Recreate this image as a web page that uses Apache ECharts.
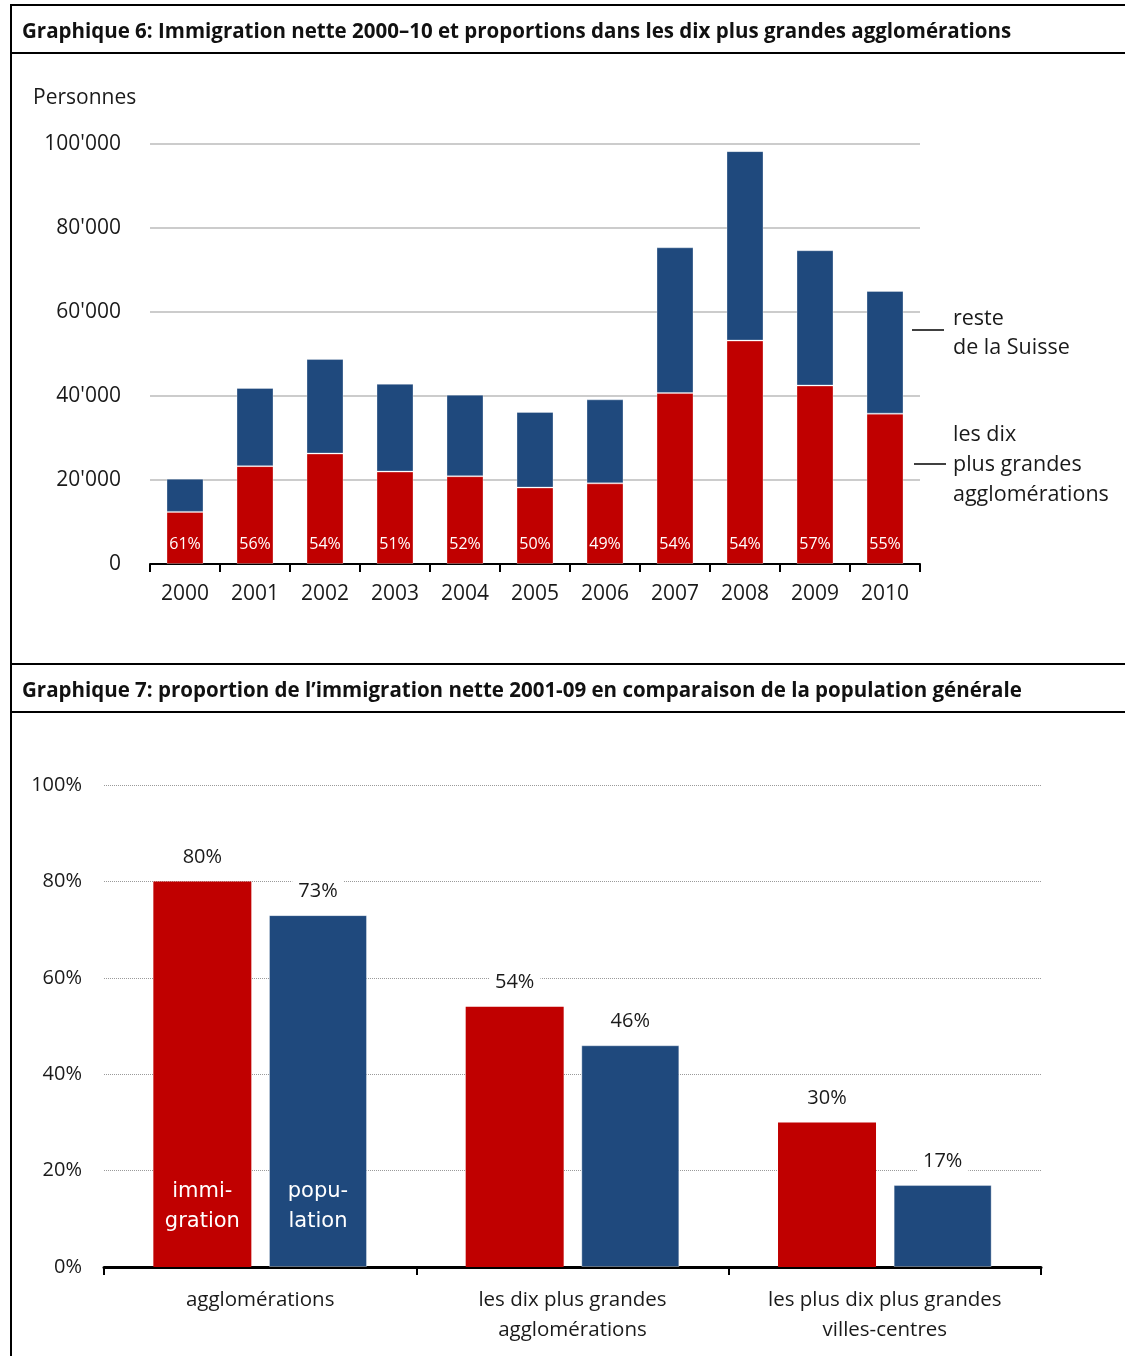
<!DOCTYPE html>
<html>
<head>
<meta charset="utf-8">
<script src="https://cdn.jsdelivr.net/npm/echarts@6/dist/echarts.min.js"></script>
<style>
  html, body { margin: 0; padding: 0; background: #fff; }
  #page { position: relative; width: 1125px; height: 1356px; overflow: hidden; }
  #chart { position: absolute; left: 0; top: 0; width: 1125px; height: 1356px; }
  .rule { position: absolute; background: #000; }
  .title { position: absolute; left: 22px; font-family: "Open Sans", sans-serif; font-weight: bold;
           font-size: 20.5px; color: #111; line-height: 26px; white-space: nowrap; }
</style>
</head>
<body>
<div id="page">
  <div id="chart"></div>
  <!-- frame rules -->
  <div class="rule" style="left:10px; top:4px; width:2px; height:1352px;"></div>
  <div class="rule" style="left:10px; top:4px; width:1115px; height:2px;"></div>
  <div class="rule" style="left:10px; top:52px; width:1115px; height:2px;"></div>
  <div class="rule" style="left:10px; top:663px; width:1115px; height:2px;"></div>
  <div class="rule" style="left:10px; top:711px; width:1115px; height:2px;"></div>
  <div class="title" style="top:17px;">Graphique 6: Immigration nette 2000–10 et proportions dans les dix plus grandes agglomérations</div>
  <div class="title" style="top:676px;">Graphique 7: proportion de l’immigration nette 2001-09 en comparaison de la population générale</div>
</div>
<script>
// Graphique 6 — net immigration per year (persons)
const years = ['2000', '2001', '2002', '2003', '2004', '2005', '2006', '2007', '2008', '2009', '2010'];
const tenLargest = [12400, 23300, 26300, 22000, 20900, 18200, 19200, 40700, 53200, 42500, 35800];
const restOfSwitzerland = [7900, 18600, 22500, 20900, 19400, 18000, 20000, 34700, 45100, 32200, 29200];
const personTicks = [0, 20000, 40000, 60000, 80000, 100000];

// Graphique 7 — shares 2001-09 (%)
const groups = ['agglomérations', 'les dix plus grandes\nagglomérations', 'les plus dix plus grandes\nvilles-centres'];
const immigrationShare = [80, 54, 30];
const populationShare = [73, 46, 17];
const shareTicks = [0, 20, 40, 60, 80, 100];

const RED = '#C00000';
const BLUE = '#1F497D';
const TXT = '#1a1a1a';
const FONT = '"Open Sans", sans-serif';

const fmtPersons = v => String(v).replace(/\B(?=(\d{3})+(?!\d))/g, "'");
const sharePct = i => Math.round(100 * tenLargest[i] / (tenLargest[i] + restOfSwitzerland[i])) + '%';

const chart = echarts.init(document.getElementById('chart'), null, { renderer: 'canvas' });

const insideNote = (text) => ({
  show: true, position: 'insideBottom', distance: 30, formatter: text,
  color: '#fff', fontFamily: '"DejaVu Sans", sans-serif', fontSize: 21, lineHeight: 30
});

chart.setOption({
  animation: false,
  textStyle: { fontFamily: FONT, color: TXT },
  grid: [
    { left: 150, top: 144, width: 770, height: 420 },
    { left: 104, top: 785, width: 937, height: 482 }
  ],
  xAxis: [
    {
      type: 'category', gridIndex: 0, data: years,
      axisLine: { lineStyle: { color: '#000', width: 2 } },
      axisTick: { show: true, length: 8, interval: 0, lineStyle: { color: '#000', width: 2 } },
      axisLabel: { interval: 0, margin: 20, fontSize: 21, color: TXT, fontFamily: FONT }
    },
    {
      type: 'category', gridIndex: 1, data: groups,
      axisLine: { lineStyle: { color: '#000', width: 3 } },
      axisTick: { show: true, length: 8, interval: 0, lineStyle: { color: '#000', width: 2 } },
      axisLabel: { interval: 0, margin: 18, fontSize: 20.5, lineHeight: 30, color: TXT, fontFamily: FONT }
    }
  ],
  yAxis: [
    {
      type: 'value', gridIndex: 0, min: personTicks[0], max: personTicks[personTicks.length - 1],
      interval: personTicks[1] - personTicks[0],
      axisLine: { show: false }, axisTick: { show: false },
      axisLabel: { margin: 29, fontSize: 21, color: TXT, fontFamily: FONT, formatter: fmtPersons },
      splitLine: { lineStyle: { color: '#cccccc', width: 2 } }
    },
    {
      type: 'value', gridIndex: 1, min: shareTicks[0], max: shareTicks[shareTicks.length - 1],
      interval: shareTicks[1] - shareTicks[0],
      axisLine: { show: false }, axisTick: { show: false },
      axisLabel: { margin: 22, fontSize: 20, color: TXT, fontFamily: FONT, formatter: '{value}%' },
      splitLine: { lineStyle: { color: '#9a9a9a', width: 1, type: [1, 1] } }
    }
  ],
  series: [
    {
      name: 'les dix plus grandes agglomérations', type: 'bar', stack: 'year',
      xAxisIndex: 0, yAxisIndex: 0, barWidth: 37, data: tenLargest,
      itemStyle: { color: RED, borderColor: 'rgba(255,255,255,0.3)', borderWidth: 1 },
      label: {
        show: true, position: 'insideBottom', distance: 12, color: '#fff',
        fontSize: 16, fontFamily: FONT, formatter: p => sharePct(p.dataIndex)
      }
    },
    {
      name: 'reste de la Suisse', type: 'bar', stack: 'year',
      xAxisIndex: 0, yAxisIndex: 0, barWidth: 37, data: restOfSwitzerland,
      itemStyle: { color: BLUE, borderColor: 'rgba(255,255,255,0.3)', borderWidth: 1 }
    },
    {
      name: 'immigration', type: 'bar', stack: 'imm',
      xAxisIndex: 1, yAxisIndex: 1, barWidth: 98, barGap: '18%',
      data: immigrationShare.map((v, i) => i === 0 ? { value: v, label: insideNote('immi-\ngration') } : v),
      itemStyle: { color: RED }
    },
    {
      name: 'immigration-value', type: 'bar', stack: 'imm',
      xAxisIndex: 1, yAxisIndex: 1, barWidth: 98, silent: true,
      data: immigrationShare.map(() => 0),
      itemStyle: { color: 'transparent' },
      label: {
        show: true, position: 'top', distance: 12, fontSize: 20, color: TXT, fontFamily: FONT,
        backgroundColor: '#fff', padding: [2, 6],
        formatter: p => immigrationShare[p.dataIndex] + '%'
      }
    },
    {
      name: 'population', type: 'bar', stack: 'pop',
      xAxisIndex: 1, yAxisIndex: 1, barWidth: 98,
      data: populationShare.map((v, i) => i === 0 ? { value: v, label: insideNote('popu-\nlation') } : v),
      itemStyle: { color: BLUE, borderColor: 'rgba(255,255,255,0.35)', borderWidth: 1 }
    },
    {
      name: 'population-value', type: 'bar', stack: 'pop',
      xAxisIndex: 1, yAxisIndex: 1, barWidth: 98, silent: true,
      data: populationShare.map(() => 0),
      itemStyle: { color: 'transparent' },
      label: {
        show: true, position: 'top', distance: 12, fontSize: 20, color: TXT, fontFamily: FONT,
        backgroundColor: '#fff', padding: [2, 6],
        formatter: p => populationShare[p.dataIndex] + '%'
      }
    }
  ],
  graphic: [
    { type: 'text', left: 33, top: 88, style: { text: 'Personnes', font: '21px ' + FONT, fill: TXT } },
    { type: 'line', shape: { x1: 912, y1: 330, x2: 944, y2: 330 }, style: { stroke: '#000', lineWidth: 1.5 } },
    { type: 'text', left: 953, top: 304, style: { text: 'reste\nde la Suisse', font: '21.5px ' + FONT, lineHeight: 29, fill: TXT } },
    { type: 'line', shape: { x1: 914, y1: 464, x2: 946, y2: 464 }, style: { stroke: '#000', lineWidth: 1.5 } },
    { type: 'text', left: 953, top: 420, style: { text: 'les dix\nplus grandes\nagglomérations', font: '21.5px ' + FONT, lineHeight: 30, fill: TXT } }
  ]
});
</script>
</body>
</html>
